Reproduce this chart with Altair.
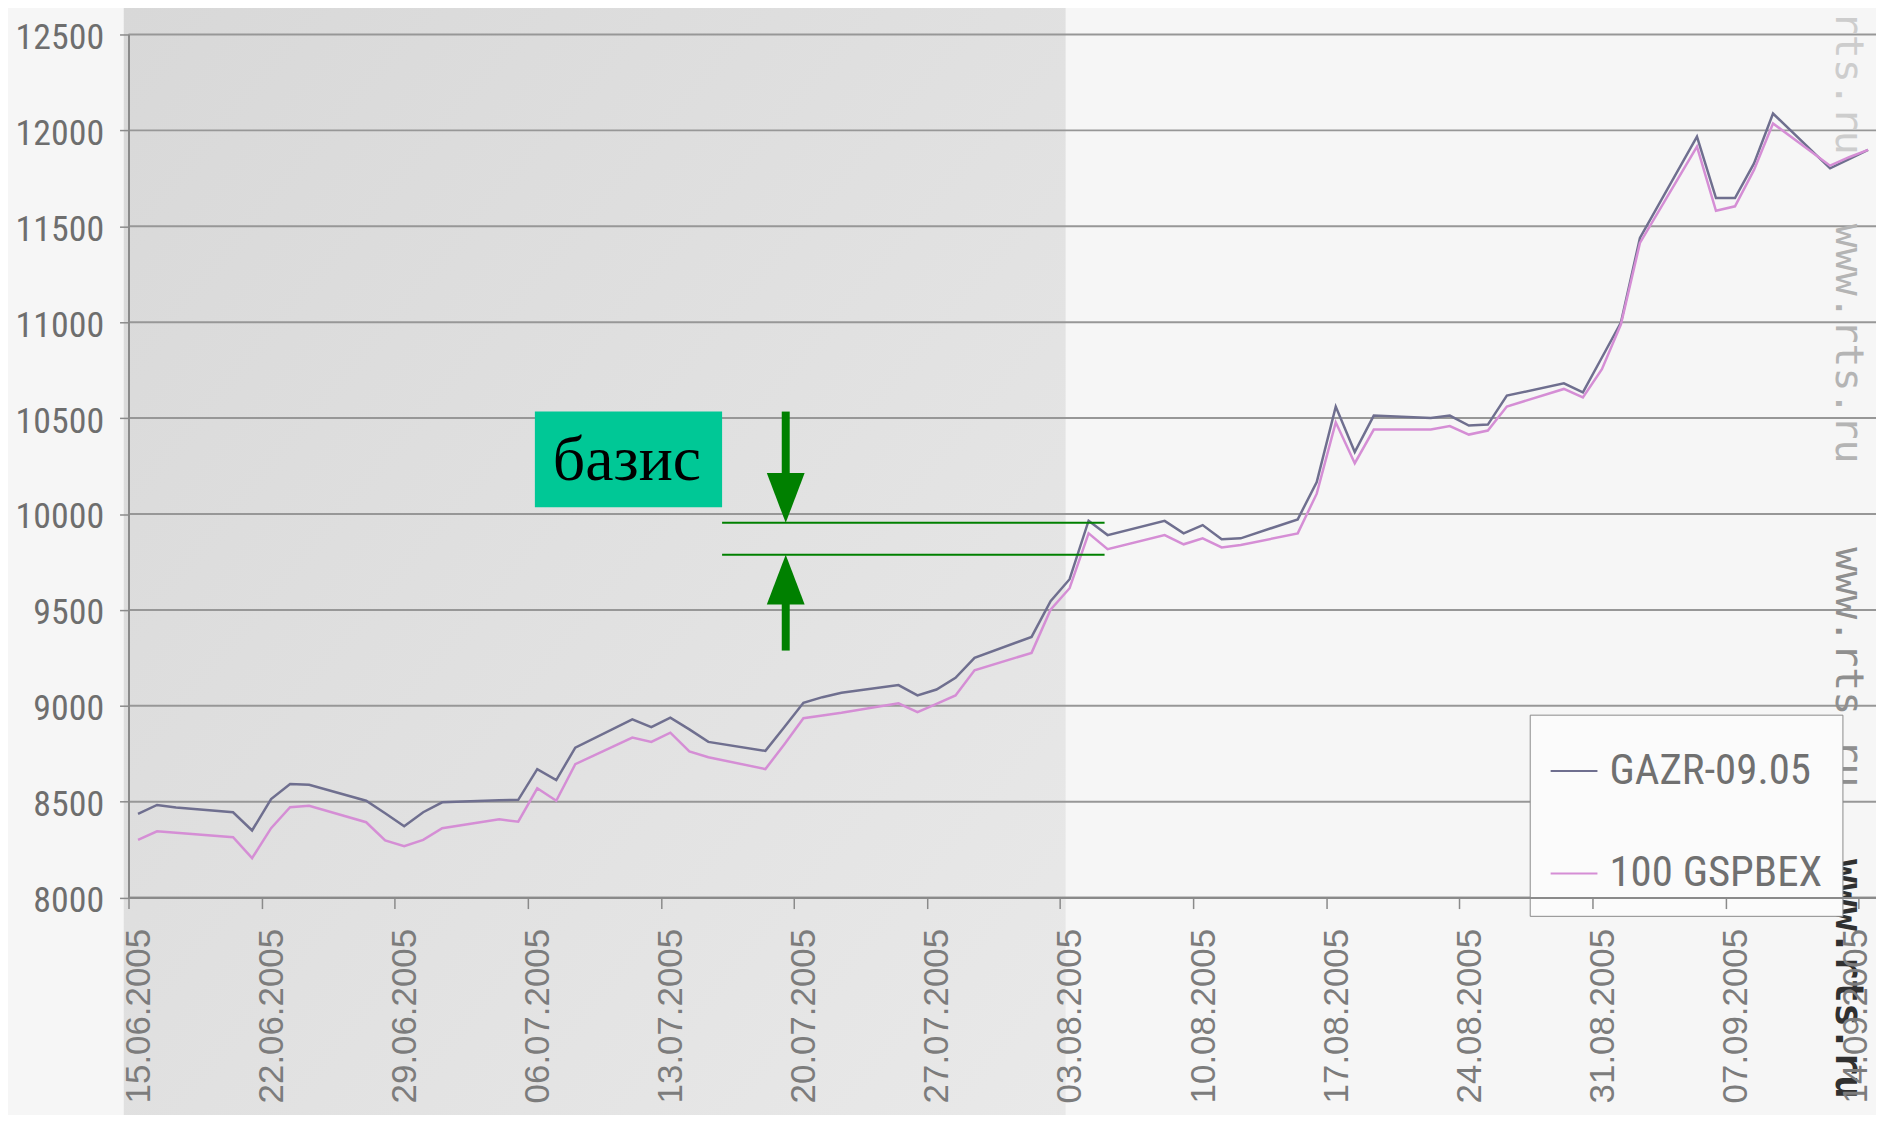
import altair as alt
import pandas as pd
from datetime import datetime

# ---------------- data ----------------
dates = ["2005-06-15", "2005-06-16", "2005-06-17", "2005-06-20", "2005-06-21", "2005-06-22",
         "2005-06-23", "2005-06-24", "2005-06-27", "2005-06-28", "2005-06-29", "2005-06-30",
         "2005-07-01", "2005-07-04", "2005-07-05", "2005-07-06", "2005-07-07", "2005-07-08",
         "2005-07-11", "2005-07-12", "2005-07-13", "2005-07-14", "2005-07-15", "2005-07-18",
         "2005-07-19", "2005-07-20", "2005-07-21", "2005-07-22", "2005-07-25", "2005-07-26",
         "2005-07-27", "2005-07-28", "2005-07-29", "2005-08-01", "2005-08-02", "2005-08-03",
         "2005-08-04", "2005-08-05", "2005-08-08", "2005-08-09", "2005-08-10", "2005-08-11",
         "2005-08-12", "2005-08-15", "2005-08-16", "2005-08-17", "2005-08-18", "2005-08-19",
         "2005-08-22", "2005-08-23", "2005-08-24", "2005-08-25", "2005-08-26", "2005-08-29",
         "2005-08-30", "2005-08-31", "2005-09-01", "2005-09-02", "2005-09-05", "2005-09-06",
         "2005-09-07", "2005-09-08", "2005-09-09", "2005-09-12", "2005-09-13", "2005-09-14"]

gazr = [8436, 8483, 8470, 8445, 8350, 8514, 8592, 8588, 8505, 8440, 8372, 8445,
        8497, 8508, 8510, 8670, 8613, 8782, 8929, 8889, 8938, 8877, 8812, 8765,
        8890, 9016, 9045, 9068, 9108, 9054, 9085, 9146, 9250,
        9359, 9545, 9660, 9965, 9890, 9964, 9899, 9942, 9868, 9873, 9972, 10167,
        10560, 10323, 10513, 10500, 10513, 10461, 10466, 10617, 10681, 10634, 10816,
        10998, 11439, 11967, 11647, 11647, 11828, 12088, 11802, 11850, 11898]

gspbex = [8301, 8346, 8338, 8315, 8206, 8362, 8471, 8479, 8393, 8298, 8268, 8301,
          8362, 8408, 8396, 8570, 8505, 8696, 8834, 8812, 8860, 8762, 8732, 8670,
          8800, 8935, 8950, 8964, 9013, 8967, 9010, 9054, 9185,
          9276, 9501, 9613, 9899, 9817, 9890, 9842, 9873, 9826, 9838, 9899, 10106,
          10478, 10265, 10440, 10440, 10458, 10414, 10435, 10560, 10652, 10608, 10755,
          10989, 11413, 11915, 11581, 11604, 11794, 12036, 11816, 11860, 11898]

series_names = ["GAZR-09.05", "100 GSPBEX"]
series_colors = ["#6f6f8f", "#d58ed5"]

y_ticks = [8000, 8500, 9000, 9500, 10000, 10500, 11000, 11500, 12000, 12500]
x_tick_dates = ["2005-06-15", "2005-06-22", "2005-06-29", "2005-07-06", "2005-07-13",
                "2005-07-20", "2005-07-27", "2005-08-03", "2005-08-10", "2005-08-17",
                "2005-08-24", "2005-08-31", "2005-09-07", "2005-09-14"]
x_domain = ["2005-06-15T00:00", "2005-09-14T22:00"]

# shaded (darker) period of the background
shade_period = ["2005-06-14T18:00", "2005-08-03T07:00"]

# "базис" annotation (in data units)
basis_label = "базис"
basis_box_x = ["2005-07-06T09:00", "2005-07-16T05:20"]
basis_box_y = [10035, 10534]
basis_text_x = "2005-07-11T05:15"
basis_text_y = 10176
basis_lines_x = ["2005-07-16T05:20", "2005-08-05T08:10"]
basis_lines_y = [9954, 9788]
arrow_x = "2005-07-19T13:40"
arrow_down_shaft = [10534, 10190]
arrow_up_shaft = [9550, 9288]

watermark = "www.rts.ru"

# ---------------- helpers ----------------
def dt(s):
    d = datetime.fromisoformat(s)
    return alt.DateTime(year=d.year, month=d.month, date=d.day, hours=d.hour, minutes=d.minute)

x_scale = alt.Scale(domain=[dt(x_domain[0]), dt(x_domain[1])], nice=False)
y_scale = alt.Scale(domain=[8000, 12500], nice=False, zero=False)

x_axis = alt.Axis(values=[dt(s) for s in x_tick_dates], format="%d.%m.%Y", title=None,
                  labelAngle=270, labelAlign="right", labelBaseline="middle",
                  labelOffset={"condition": {"test": "datum.value >= datetime(2005, 8, 13)",
                                             "value": -3},
                               "value": 10},
                  labelPadding=20, labelFlush=False, labelOverlap=False,
                  labelFont="Liberation Sans", labelFontSize=35, labelColor="#7c7c7c",
                  tickSize=11, tickColor="#8a8a8a", tickWidth=1.5,
                  domainColor="#8a8a8a", domainWidth=2, grid=False, zindex=1)
narrow = "Liberation Sans Narrow, Arial Narrow, Roboto Condensed, Liberation Sans"
y_axis = alt.Axis(values=y_ticks, format="d", title=None,
                  labelFont=narrow, labelFontSize=36, labelColor="#6e6e6e",
                  labelPadding=16, labelOffset=3, tickSize=9, tickColor="#8a8a8a", tickWidth=1.5,
                  domainColor="#8a8a8a", domainWidth=2, grid=False, zindex=1)


def X(field, **kw):
    return alt.X(field, type="temporal", scale=x_scale, axis=x_axis, **kw)


def Y(field, **kw):
    return alt.Y(field, type="quantitative", scale=y_scale, axis=y_axis, **kw)


# ---------------- tables ----------------
rows = []
for name, vals in zip(series_names, [gazr, gspbex]):
    for d, v in zip(dates, vals):
        rows.append({"date": d + "T12:00", "series": name, "value": v})
df = pd.DataFrame(rows)

grid_df = pd.DataFrame({"value": y_ticks})
shade_df = pd.DataFrame({"start": [shade_period[0]], "end": [shade_period[1]]})
box_df = pd.DataFrame({"start": [basis_box_x[0]], "end": [basis_box_x[1]],
                       "low": [basis_box_y[0]], "high": [basis_box_y[1]]})
text_df = pd.DataFrame({"date": [basis_text_x], "value": [basis_text_y], "label": [basis_label]})
hline_df = pd.DataFrame({"start": [basis_lines_x[0]] * 2, "end": [basis_lines_x[1]] * 2,
                         "value": basis_lines_y})
shaft_df = pd.DataFrame({"date": [arrow_x] * 2,
                         "top": [arrow_down_shaft[0], arrow_up_shaft[0]],
                         "bottom": [arrow_down_shaft[1], arrow_up_shaft[1]]})
head_df = pd.DataFrame({"date": [arrow_x] * 2, "value": basis_lines_y, "dir": ["down", "up"]})

# ---------------- layers ----------------
shade = alt.Chart(shade_df).mark_rect(
    color=alt.LinearGradient(gradient="linear",
                             stops=[alt.GradientStop(color="#d8d8d8", offset=0),
                                    alt.GradientStop(color="#e9e9e9", offset=1)],
                             x1=0, y1=0, x2=1, y2=1)
).encode(x=X("start:T"), x2="end:T", y=alt.value(-27), y2=alt.value(1100))

grid = alt.Chart(grid_df).mark_rule(color="#979797", strokeWidth=2).encode(
    y=Y("value:Q"), x=alt.value(0), x2=alt.value(1754.7))

legend = alt.Legend(orient="none", legendX=1407, legendY=683, direction="vertical",
                    title=" ", titleFontSize=8, titlePadding=4,
                    symbolType="stroke", symbolSize=2209, symbolStrokeWidth=2,
                    labelFont=narrow, labelFontSize=43, labelColor="#707070", labelOffset=11,
                    rowPadding=56, padding=20, fillColor="#fbfbfb", strokeColor="#8a8a8a",
                    labelLimit=400)

lines = alt.Chart(df).mark_line(strokeWidth=2.5).encode(
    x=X("date:T"),
    y=Y("value:Q"),
    color=alt.Color("series:N", scale=alt.Scale(domain=series_names, range=series_colors),
                    legend=legend),
)

box = alt.Chart(box_df).mark_rect(color="#00c896").encode(
    x=X("start:T"), x2="end:T", y=Y("high:Q"), y2="low:Q")

label = alt.Chart(text_df).mark_text(font="Liberation Serif", fontSize=64, color="#000000",
                                     align="center", baseline="alphabetic").encode(
    x=X("date:T"), y=Y("value:Q"), text="label:N")

hlines = alt.Chart(hline_df).mark_rule(color="#008000", strokeWidth=2).encode(
    x=X("start:T"), x2="end:T", y=Y("value:Q"))

shafts = alt.Chart(shaft_df).mark_rule(color="#008000", strokeWidth=8).encode(
    x=X("date:T"), y=Y("top:Q"), y2="bottom:Q")

heads = alt.Chart(head_df).mark_point(filled=True, opacity=1, size=1444, strokeWidth=0,
                                      color="#008000").encode(
    x=X("date:T"), y=Y("value:Q"),
    shape=alt.Shape("dir:N", scale=alt.Scale(domain=["down", "up"],
                                             range=["M -1 -2.63 L 1 -2.63 L 0 0 Z",
                                                    "M -1 2.63 L 1 2.63 L 0 0 Z"]),
                    legend=None))

wm_df = pd.DataFrame({"t": [watermark]})


def wm(ypix, color, weight="normal"):
    return alt.Chart(wm_df).mark_text(font="DejaVu Sans Mono", fontSize=40, angle=90,
                                      align="left", baseline="alphabetic",
                                      color=color, fontWeight=weight).encode(
        x=alt.value(1715), y=alt.value(ypix), text="t:N")


chart = alt.layer(
    shade, grid, lines, box, label, hlines, shafts, heads,
    wm(-120, "#cdcdcd"), wm(190, "#b4b4b4"), wm(515, "#8f8f8f"), wm(828, "#303030", "bold"),
).properties(
    width=1754.7, height=866.7,
    padding={"left": 121, "top": 24.3, "right": 0, "bottom": 216},
    autosize=alt.AutoSizeParams(type="none"),
    background="#f6f6f6",
).configure_view(stroke=None)

chart.save("out.html", embed_options={"renderer": "svg", "actions": False})
